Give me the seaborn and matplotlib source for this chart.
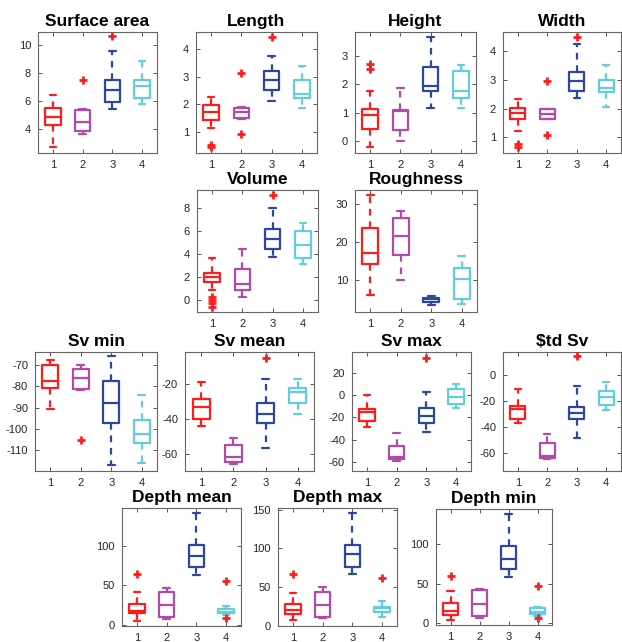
import numpy as np
import pandas as pd
import matplotlib
matplotlib.use("Agg")
import matplotlib.pyplot as plt
import seaborn as sns

sns.set_style("ticks")
plt.rcParams['font.family'] = ['Liberation Sans', 'DejaVu Sans']
plt.rcParams['axes.unicode_minus'] = False

# ---------------- data ----------------
groups = [1, 2, 3, 4]
group_colors = ['#FF1C1C', '#B44AA8', '#2B47A0', '#62CDE0']
outlier_color = '#FF1C1C'

titles = ['Surface area', 'Length', 'Height', 'Width',
          'Volume', 'Roughness',
          'Sv min', 'Sv mean', 'Sv max', '$td Sv',
          'Depth mean', 'Depth max', 'Depth min']

# five-number summaries per group (whisker low, Q1, median, Q3, whisker high)
surface_area = dict(lo=[2.75, 3.62, 5.42, 5.75], q1=[4.28, 3.86, 5.94, 6.22],
                    med=[4.83, 4.52, 6.77, 7.05], q3=[5.47, 5.35, 7.52, 7.47],
                    hi=[6.45, 5.45, 9.55, 8.82])
length = dict(lo=[1.14, 1.49, 2.11, 1.86], q1=[1.42, 1.51, 2.51, 2.24],
              med=[1.74, 1.74, 2.89, 2.36], q3=[1.96, 1.86, 3.19, 2.87],
              hi=[2.27, 1.89, 3.73, 3.37])
height = dict(lo=[-0.22, 0.01, 1.17, 1.17], q1=[0.44, 0.39, 1.76, 1.52],
              med=[0.92, 1.05, 1.96, 1.78], q3=[1.12, 1.10, 2.61, 2.49],
              hi=[1.78, 1.88, 3.67, 2.67])
width = dict(lo=[1.22, 1.63, 2.37, 2.06], q1=[1.63, 1.65, 2.60, 2.57],
             med=[1.84, 1.80, 2.95, 2.72], q3=[2.04, 1.98, 3.29, 3.00],
             hi=[2.33, 2.00, 4.26, 3.53])
volume = dict(lo=[0.90, 0.26, 3.80, 3.19], q1=[1.57, 0.90, 4.46, 3.65],
              med=[2.00, 1.42, 5.30, 4.81], q3=[2.43, 2.70, 6.17, 6.03],
              hi=[3.68, 4.46, 8.00, 6.70])
roughness = dict(lo=[6.2, 10.1, 3.4, 3.8], q1=[14.1, 16.6, 4.1, 4.9],
                 med=[17.1, 21.7, 4.98, 10.4], q3=[23.8, 26.3, 5.4, 13.1],
                 hi=[32.4, 28.1, 5.9, 16.4])
sv_min = dict(lo=[-90.8, -81.7, -117.0, -116.2], q1=[-80.9, -81.2, -97.2, -106.7],
              med=[-77.3, -76.2, -87.6, -102.5], q3=[-69.7, -72.0, -77.5, -95.8],
              hi=[-67.4, -70.0, -65.8, -84.2])
sv_mean = dict(lo=[-44.0, -65.8, -56.9, -37.0], q1=[-39.8, -64.8, -42.1, -30.6],
               med=[-33.1, -61.9, -37.3, -24.2], q3=[-28.3, -55.2, -31.0, -21.9],
               hi=[-18.5, -50.8, -17.1, -17.1])
sv_max = dict(lo=[-28.9, -59.4, -33.4, -12.0], q1=[-22.8, -57.0, -24.9, -7.8],
              med=[-15.0, -55.8, -18.3, -1.8], q3=[-12.9, -46.0, -11.4, 5.1],
              hi=[0.0, -34.0, 3.0, 10.2])
std_sv = dict(lo=[-37.2, -65.1, -48.3, -26.9], q1=[-33.6, -64.3, -33.6, -23.0],
              med=[-26.4, -62.5, -29.7, -16.8], q3=[-23.8, -52.2, -24.6, -12.1],
              hi=[-10.9, -45.2, -8.3, -5.2])
depth_mean = dict(lo=[5.5, 7.2, 63.3, 12.7], q1=[14.8, 9.7, 73.8, 14.8],
                  med=[18.0, 25.3, 87.3, 16.9], q3=[26.6, 42.2, 100.4, 19.8],
                  hi=[42.2, 47.3, 141.3, 24.0])
depth_max = dict(lo=[7.3, 9.5, 67.0, 11.7], q1=[15.1, 11.7, 76.5, 18.2],
                 med=[20.3, 26.8, 92.5, 22.5], q3=[28.1, 44.0, 104.6, 24.6],
                 hi=[42.8, 50.6, 145.7, 32.4])
depth_min = dict(lo=[4.2, 6.3, 59.0, 9.3], q1=[10.5, 9.3, 68.8, 11.8],
                 med=[16.0, 24.5, 81.0, 14.8], q3=[25.3, 42.2, 97.0, 19.0],
                 hi=[41.4, 43.5, 138.4, 21.1])

# outliers: (group, value)
surface_area_out = [(2, 7.52), (3, 10.6)]
length_out = [(1, 0.55), (1, 0.47), (2, 3.13), (2, 0.94), (3, 4.42)]
height_out = [(1, 2.55), (1, 2.72)]
width_out = [(1, 0.78), (1, 0.66), (2, 2.95), (2, 1.08), (3, 4.51)]
volume_out = [(1, 0.30), (1, 0.05), (1, -0.20), (1, -0.55), (3, 9.16)]
roughness_out = []
sv_min_out = [(2, -105.3)]
sv_mean_out = [(3, -4.6)]
sv_max_out = [(3, 33.1)]
std_sv_out = [(3, 14.5)]
depth_mean_out = [(1, 64.1), (4, 55.7), (4, 8.4)]
depth_max_out = [(1, 67.0), (4, 62.0)]
depth_min_out = [(1, 59.9), (4, 47.3), (4, 6.3)]

ylims = [(2.3, 10.9), (0.25, 4.6), (-0.42, 3.85), (0.46, 4.67),
         (-1.0, 9.6), (1.6, 33.7),
         (-119.8, -63.8), (-70.0, -1.4), (-68.0, 38.6), (-74.0, 17.6),
         (-1.3, 147.7), (-0.4, 152.2), (-2.1, 144.3)]
yticks = [[4, 6, 8, 10], [1, 2, 3, 4], [0, 1, 2, 3], [1, 2, 3, 4],
          [0, 2, 4, 6, 8], [10, 20, 30],
          [-110, -100, -90, -80, -70], [-60, -40, -20], [-60, -40, -20, 0, 20], [-60, -40, -20, 0],
          [0, 50, 100], [0, 50, 100, 150], [0, 50, 100]]

panels = [surface_area, length, height, width, volume, roughness,
          sv_min, sv_mean, sv_max, std_sv, depth_mean, depth_max, depth_min]
outliers = [surface_area_out, length_out, height_out, width_out, volume_out, roughness_out,
            sv_min_out, sv_mean_out, sv_max_out, std_sv_out,
            depth_mean_out, depth_max_out, depth_min_out]

# ---------------- layout (pixel rects: left, top, right, bottom) ----------------
W, H = 622, 642
rects = [(38, 32, 157, 153), (196, 32, 317, 153), (355, 32, 476, 153), (503, 32, 621, 153),
         (197, 190, 318, 312), (355, 190, 477, 312),
         (35, 352, 157, 471), (185, 352, 314, 471), (352, 352, 471, 471), (503, 352, 621, 471),
         (122, 508, 241, 626), (278, 508, 397, 626), (436, 509, 552, 625)]

fig = plt.figure(figsize=(W / 100, H / 100), dpi=100)
fig.patch.set_facecolor('white')

lw = 1.6
for i, (title, st, outs) in enumerate(zip(titles, panels, outliers)):
    l, t, r, b = rects[i]
    ax = fig.add_axes([l / W, 1 - b / H, (r - l) / W, (b - t) / H])
    stats = [dict(whislo=st['lo'][k], q1=st['q1'][k], med=st['med'][k],
                  q3=st['q3'][k], whishi=st['hi'][k], fliers=[]) for k in range(4)]
    art = ax.bxp(stats, positions=groups, widths=0.52, capwidths=0.22,
                 showfliers=False,
                 boxprops=dict(linewidth=lw),
                 medianprops=dict(linewidth=lw),
                 whiskerprops=dict(linewidth=lw, linestyle=(0, (3, 2.6))),
                 capprops=dict(linewidth=lw))
    for k, c in enumerate(group_colors):
        art['boxes'][k].set_color(c)
        art['medians'][k].set_color(c)
        for j in (2 * k, 2 * k + 1):
            art['whiskers'][j].set_color(c)
            art['caps'][j].set_color(c)
    if outs:
        df = pd.DataFrame(outs, columns=['group', 'value'])
        sns.scatterplot(data=df, x='group', y='value', ax=ax, marker='+',
                        color=outlier_color, s=38, linewidth=2.0, legend=False,
                        zorder=5)
    ax.set_xlim(0.5, 4.5)
    ax.set_ylim(*ylims[i])
    ax.set_xticks(groups)
    ax.set_xticklabels([str(g) for g in groups])
    ax.set_yticks(yticks[i])
    ax.set_yticklabels([str(v) for v in yticks[i]])
    ax.set_xlabel('')
    ax.set_ylabel('')
    ax.tick_params(direction='in', top=True, right=True, length=3, width=0.7,
                   labelsize=8, colors='#555555', labelcolor='#262626', pad=5)
    for sp in ax.spines.values():
        sp.set_visible(True)
        sp.set_color('#666666')
        sp.set_linewidth(0.8)
    ax.set_title(title, fontsize=12.5, fontweight='bold', pad=4, color='black')

fig.savefig('out.png', dpi=100, facecolor='white')
